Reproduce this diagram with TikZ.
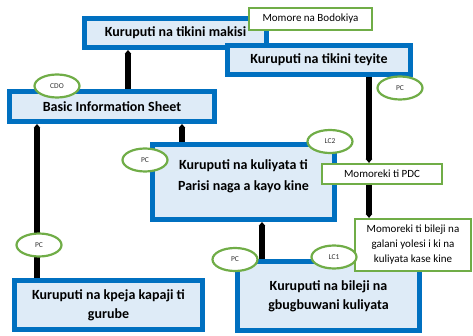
\documentclass[tikz,border=0pt]{standalone}
\usepackage{fontspec}
\setmainfont{Carlito}
\usetikzlibrary{
  positioning,
  arrows.meta,
  shapes.geometric
}
\usepackage{xcolor}
\definecolor{boxblue}{HTML}{0070C0}
\definecolor{boxfill}{HTML}{DEEBF7}
\definecolor{leafgreen}{HTML}{70AD47}

\begin{document}
\begin{tikzpicture}[
  x=1pt, y=-1pt,
  kbox/.style={draw=boxblue, line width=5pt, fill=boxfill, inner sep=2pt,
               font=\fontsize{14}{19}\selectfont\bfseries, align=center},
  gbox/.style={draw=leafgreen, line width=2.2pt, fill=white, inner sep=1pt,
               font=\fontsize{11}{15}\selectfont, align=center},
  role/.style={ellipse, draw=leafgreen, line width=2.2pt, fill=white, inner sep=0pt,
               minimum width=45pt, minimum height=23pt,
               font=\fontsize{7.5}{8}\selectfont, text=black!80},
  karrow/.style={line width=6pt, -{Triangle[width=6.5pt, length=4pt]}}
]
  \useasboundingbox (0,0) rectangle (473,336);

  % Blue boxes
  \node[kbox, minimum width=182pt, minimum height=29pt] (makisi) at (175.5,33) {Kuruputi na tikini makisi};
  \node[kbox, minimum width=183pt, minimum height=29pt] (teyite) at (319,60) {Kuruputi na tikini teyite};
  \node[gbox, minimum width=123pt, minimum height=22pt] (bodokiya) at (310.5,19) {Momore na Bodokiya};
  \node[kbox, minimum width=205pt, minimum height=30pt] (basic) at (112,106.5) {Basic Information Sheet};
  \node[kbox, minimum width=182pt, minimum height=75pt] (parisi) at (243.5,182) {};
  \node[kbox, draw=none, fill=none, font=\fontsize{14}{21}\selectfont\bfseries] (parisi-t) at (243.5,176.5) {Kuruputi na kuliyata ti\\Parisi naga a kayo kine};
  \node[kbox, minimum width=182pt, minimum height=69pt] (bileji) at (328.5,296) {Kuruputi na bileji na\\gbugbuwani kuliyata};
  \node[kbox, minimum width=188pt, minimum height=49pt] (gurube) at (108.5,305) {Kuruputi na kpeja kapaji ti\\gurube};

  % Green boxes
  \node[gbox, minimum width=120pt, minimum height=20pt] (pdc) at (382,174) {Momoreki ti PDC};
  \node[gbox, minimum width=116pt, minimum height=52pt] (galani) at (413,245) {Momoreki ti bileji na\\galani yolesi i ki na\\kuliyata kase kine};

  % Arrows
  \draw[karrow] ([xshift=16pt]basic.north) -- ([xshift=16pt]basic.north |- makisi.south);
  \draw[karrow] ([xshift=-61.5pt]parisi.north) -- ([xshift=-61.5pt]parisi.north |- basic.south);
  \draw[karrow] ([xshift=-71.5pt]gurube.north) -- ([xshift=-71.5pt]gurube.north |- basic.south);
  \draw[karrow] ([xshift=-66.5pt]bileji.north) -- ([xshift=-66.5pt]bileji.north |- parisi.south);
  \draw[karrow] ([xshift=50pt]teyite.south) -- ([xshift=50pt]teyite.south |- pdc.north);
  \draw[karrow] ([xshift=-13pt]pdc.south) -- ([xshift=-13pt]pdc.south |- galani.north);

  % Roles
  \node[role] (cdo) at (57,86) {CDO};
  \node[role] (pc-parisi) at (145,160) {PC};
  \node[role] (lc-two) at (330,141.5) {LC2};
  \node[role] (pc-teyite) at (400,88) {PC};
  \node[role] (lc-one) at (334,257) {LC1};
  \node[role] (pc-bileji) at (235,259.5) {PC};
  \node[role] (pc-gurube) at (39,245) {PC};
\end{tikzpicture}
\end{document}
